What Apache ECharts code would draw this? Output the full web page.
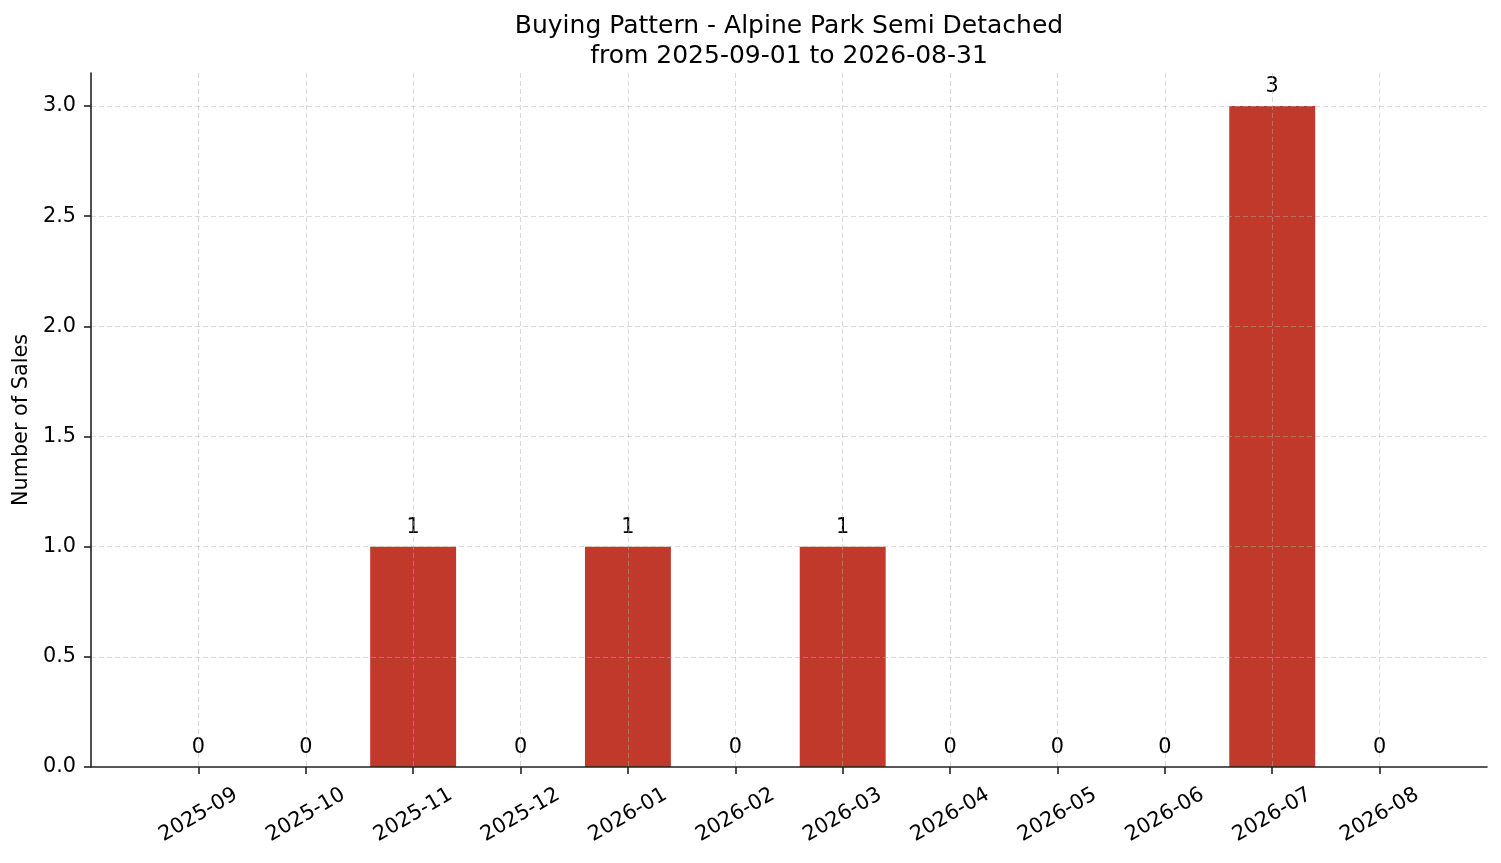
<!DOCTYPE html>
<html>
<head>
<meta charset="utf-8">
<script src="https://cdn.jsdelivr.net/npm/echarts@6/dist/echarts.min.js"></script>
<style>html,body{margin:0;padding:0;background:#fff}#c{width:1501px;height:863px}</style>
</head>
<body>
<div id="c"></div>
<script>
const titleLine1 = 'Buying Pattern - Alpine Park Semi Detached';
const titleLine2 = 'from 2025-09-01 to 2026-08-31';
const categories = ['2025-09','2025-10','2025-11','2025-12','2026-01','2026-02','2026-03','2026-04','2026-05','2026-06','2026-07','2026-08'];
const sales = [0, 0, 1, 0, 1, 0, 1, 0, 0, 0, 3, 0];
const yTicks = [0, 0.5, 1.0, 1.5, 2.0, 2.5, 3.0];
const yLabel = 'Number of Sales';

const font = 'DejaVu Sans';
const gridLine = {color: 'rgba(176,176,176,0.6)', type: [5, 3], width: 0.8};
const chart = echarts.init(document.getElementById('c'), null, {renderer: 'canvas'});
chart.setOption({
  animation: false,
  backgroundColor: '#ffffff',
  textStyle: {fontFamily: font},
  title: {
    text: titleLine1 + '\n' + titleLine2,
    left: 784, top: 6, textAlign: 'center',
    textStyle: {fontFamily: font, fontSize: 25, fontWeight: 'normal', color: '#000', lineHeight: 30}
  },
  grid: {left: 91, right: 14, top: 73, bottom: 96, containLabel: false},
  xAxis: {
    type: 'value', min: -1, max: 12, interval: 1, z: 3,
    axisLine: {show: true, onZero: false, lineStyle: {color: '#222', width: 1.6}},
    axisTick: {show: true, length: 7, lineStyle: {color: '#222', width: 1.6}},
    axisLabel: {
      rotate: 30, fontSize: 20.8, color: '#000', fontFamily: font, margin: 48,
      align: 'center', verticalAlign: 'middle',
      showMinLabel: false, showMaxLabel: false,
      formatter: v => (Number.isInteger(v) && v >= 0 && v < categories.length) ? categories[v] : ''
    },
    splitLine: {show: true, showMinLine: false, showMaxLine: false, lineStyle: gridLine}
  },
  yAxis: {
    type: 'value', min: 0, max: 3.15, interval: 0.5, z: 3,
    name: yLabel, nameLocation: 'middle', nameGap: 52,
    nameTextStyle: {fontSize: 20.8, color: '#000', fontFamily: font},
    axisLine: {show: true, onZero: false, lineStyle: {color: '#222', width: 1.6}},
    axisTick: {show: true, length: 7, lineStyle: {color: '#222', width: 1.6}},
    axisLabel: {fontSize: 20.8, color: '#000', fontFamily: font, margin: 15,
      showMaxLabel: false,
      formatter: v => yTicks.includes(Math.round(v*10)/10) ? v.toFixed(1) : ''},
    splitLine: {show: true, showMinLine: false, showMaxLine: false, lineStyle: gridLine}
  },
  series: [{
    type: 'bar',
    data: sales.map((v, i) => [i, v]),
    barWidth: '80%',
    itemStyle: {color: '#c0392b'},
    label: {show: true, position: 'top', distance: 9, fontSize: 20.8, color: '#000', fontFamily: font,
      formatter: p => String(p.value[1])}
  }]
});
</script>
</body>
</html>
